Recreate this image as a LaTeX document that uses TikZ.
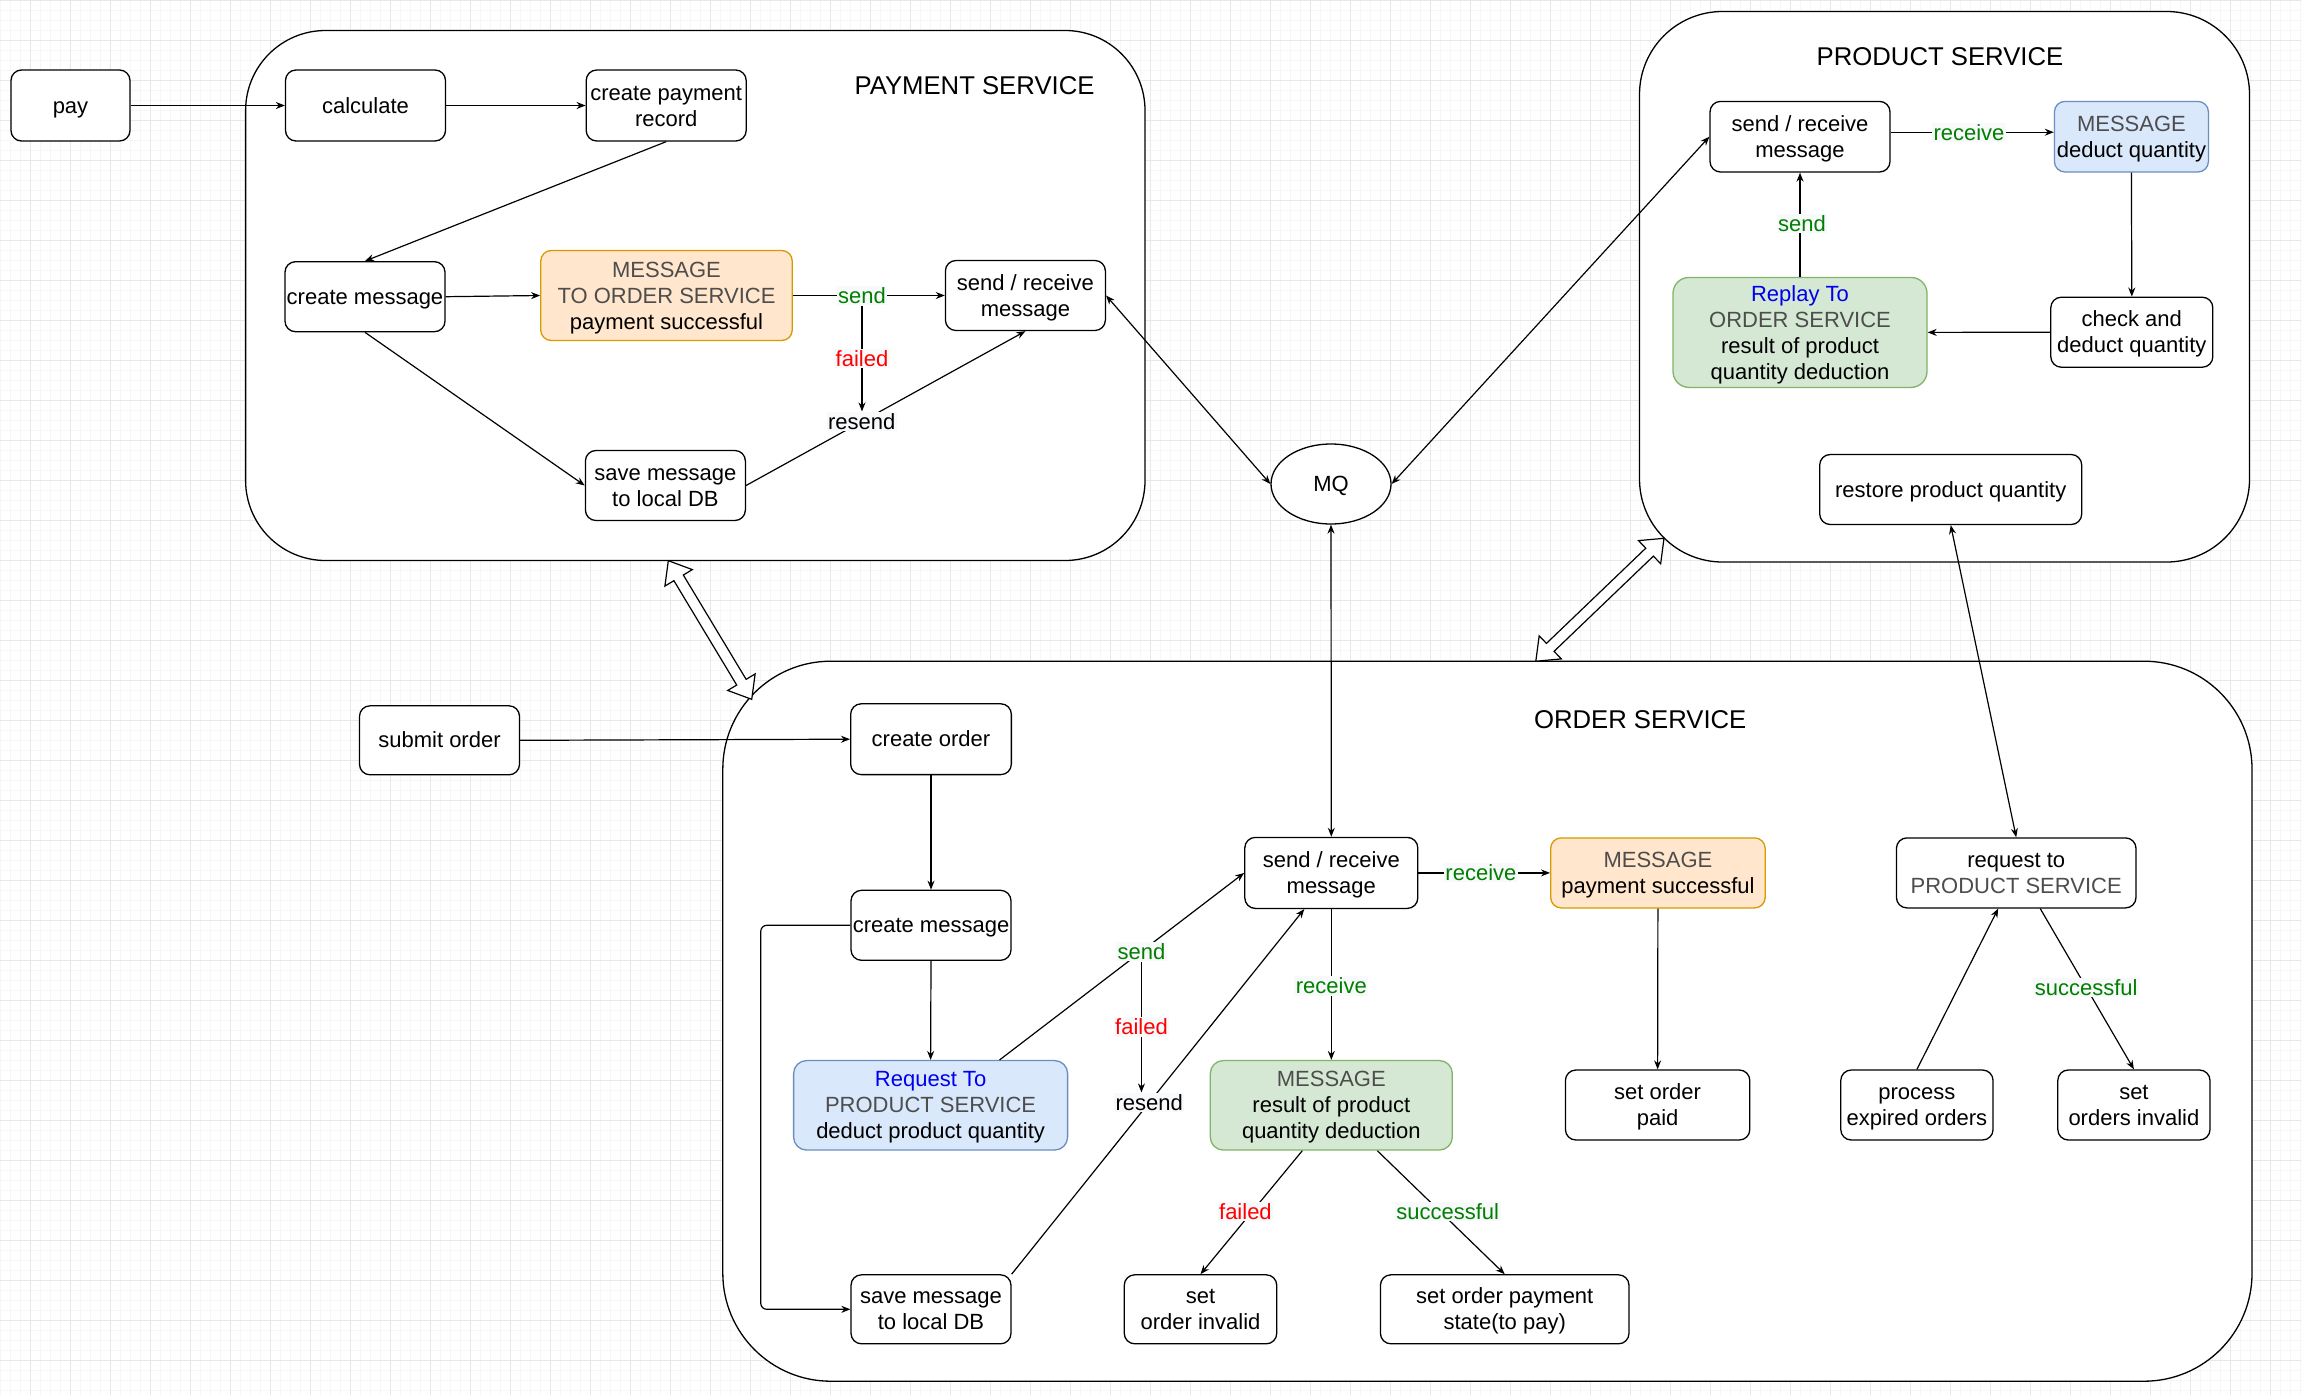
\documentclass[tikz,border=0pt]{standalone}
\usepackage{fontspec}
\setmainfont{Liberation Sans}
\usetikzlibrary{arrows.meta,calc,shapes.geometric}
\definecolor{gridmaj}{HTML}{E8E8E8}
\definecolor{gridmin}{HTML}{F6F6F6}
\definecolor{orfill}{HTML}{FFE6CC}
\definecolor{ordraw}{HTML}{D79B00}
\definecolor{blfill}{HTML}{DAE8FC}
\definecolor{bldraw}{HTML}{6C8EBF}
\definecolor{grfill}{HTML}{D5E8D4}
\definecolor{grdraw}{HTML}{82B366}
\definecolor{txtgray}{HTML}{4D4D4D}
\definecolor{txtblue}{HTML}{0000EE}
\definecolor{lblgreen}{HTML}{007F00}
\definecolor{lblred}{HTML}{FF0000}
\definecolor{lblbg}{HTML}{F8F9FA}
\newcommand\mystrut{\rule[-4.66pt]{0pt}{24.57pt}}
\begin{document}
\begin{tikzpicture}[x=1pt,y=-1pt,
  every node/.style={font=\fontsize{22}{26}\selectfont},
  box/.style={draw, line width=1.3pt, rounded corners=10.5pt, fill=white, align=center, inner sep=0pt, minimum width=160pt, minimum height=70pt},
  orbox/.style={box, fill=orfill, draw=ordraw},
  blbox/.style={box, fill=blfill, draw=bldraw, rounded corners=13pt},
  grbox/.style={box, fill=grfill, draw=grdraw, rounded corners=13pt},
  container/.style={draw, line width=1.3pt, fill=white, inner sep=0pt},
  title/.style={font=\fontsize{25.7}{30}\selectfont, inner sep=0pt},
  conn/.style={draw, line width=1.2pt, -{Stealth[length=9pt,width=7pt]}},
  dconn/.style={draw, line width=1.2pt, {Stealth[length=9pt,width=7pt]}-{Stealth[length=9pt,width=7pt]}},
  lbl/.style={fill=lblbg, inner sep=1.5pt},
  gl/.style={lbl, text=lblgreen},
  rl/.style={lbl, text=lblred},
  blockarrow/.style={draw, line width=1.2pt, fill=white, line join=miter},
  minorgrid/.style={draw=gridmin, line width=0.9pt},
  majorgrid/.style={draw=gridmaj, line width=1pt}
]
\useasboundingbox (0,0) rectangle (2301,1395);
\fill[white] (0,0) rectangle (2301,1395);
% grid
\foreach \x in {0,10,...,2300} \draw[minorgrid] (\x,0) -- (\x,1395);
\foreach \y in {0,10,...,1390} \draw[minorgrid] (0,\y) -- (2301,\y);
\foreach \x in {30,70,...,2290} \draw[majorgrid] (\x,0) -- (\x,1395);
\foreach \y in {0,40,...,1390} \draw[majorgrid] (0,\y) -- (2301,\y);

% containers
\node[container, rounded corners=80pt, minimum width=899.4pt, minimum height=530pt] (paysvc) at (695.3,295.5) {};
\node[container, rounded corners=83pt, minimum width=610pt, minimum height=550.5pt] (prodsvc) at (1944.5,286.75) {};
\node[container, rounded corners=108pt, minimum width=1529.2pt, minimum height=720pt] (ordsvc) at (1487.4,1021.2) {};

\node[title] (tP) at (974.5,86) {PAYMENT SERVICE};
\node[title] (tR) at (1940,57) {PRODUCT SERVICE};
\node[title] (tO) at (1640.2,719.5) {ORDER SERVICE};

% payment service
\node[box, minimum width=119pt, minimum height=71pt] (pay) at (70.5,105.5) {\mystrut pay\mystrut};
\node[box, minimum height=71pt] (calc) at (365.5,105.5) {\mystrut calculate\mystrut};
\node[box, minimum height=71pt] (cpr) at (666.2,105.5) {\mystrut create payment\\record\mystrut};
\node[box] (cmsgP) at (365,296.7) {\mystrut create message\mystrut};
\node[orbox, minimum width=251.5pt, minimum height=90pt] (msgP) at (666.5,295.5) {\mystrut\textcolor{txtgray}{MESSAGE}\\\textcolor{txtgray}{TO ORDER SERVICE}\\payment successful\mystrut};
\node[box] (srP) at (1025.4,295.5) {\mystrut send / receive\\message\mystrut};
\node[box] (saveP) at (665.4,485.5) {\mystrut save message\\to local DB\mystrut};

% MQ
\node[draw, ellipse, line width=1.3pt, fill=white, minimum width=120pt, minimum height=80pt, inner sep=0pt] (mq) at (1331,484) {\mystrut MQ\mystrut};

% product service
\node[box, minimum width=180pt, minimum height=70.6pt] (srR) at (1800,136.7) {\mystrut send / receive\\message\mystrut};
\node[blbox, rounded corners=10.5pt, minimum width=154pt, minimum height=70.6pt] (msgR) at (2131.4,136.7) {\mystrut\textcolor{txtgray}{MESSAGE}\\deduct quantity\mystrut};
\node[box, minimum width=162pt] (checkR) at (2131.8,332.2) {\mystrut check and\\deduct quantity\mystrut};
\node[grbox, rounded corners=16pt, minimum width=254pt, minimum height=110pt] (replayR) at (1800,332.4) {\mystrut\textcolor{txtblue}{Replay To}\\\textcolor{txtgray}{ORDER SERVICE}\\result of product\\quantity deduction\mystrut};
\node[box, minimum width=262pt] (restoreR) at (1950.7,489.5) {\mystrut restore product quantity\mystrut};

% order service
\node[box, minimum height=69pt] (submit) at (439.5,740.3) {\mystrut submit order\mystrut};
\node[box, minimum width=160.7pt, minimum height=70.8pt] (createO) at (931,739.2) {\mystrut create order\mystrut};
\node[box] (cmsgO) at (931,925.3) {\mystrut create message\mystrut};
\node[blbox, minimum width=274pt, minimum height=89.5pt] (requestO) at (930.6,1105.3) {\mystrut\textcolor{txtblue}{Request To}\\\textcolor{txtgray}{PRODUCT SERVICE}\\deduct product quantity\mystrut};
\node[box, minimum height=69pt] (saveO) at (931,1309.3) {\mystrut save message\\to local DB\mystrut};
\node[box, minimum width=173pt, minimum height=71pt] (srO) at (1331.3,872.9) {\mystrut send / receive\\message\mystrut};
\node[orbox, minimum width=214.5pt] (paysucO) at (1657.9,872.9) {\mystrut\textcolor{txtgray}{MESSAGE}\\payment successful\mystrut};
\node[grbox, minimum width=242pt, minimum height=89.5pt] (resultO) at (1331.3,1105.3) {\mystrut\textcolor{txtgray}{MESSAGE}\\result of product\\quantity deduction\mystrut};
\node[box, minimum width=184.4pt] (paidO) at (1657.6,1105) {\mystrut set order\\paid\mystrut};
\node[box, minimum width=152.5pt, minimum height=69pt] (invalidO) at (1200.5,1309.3) {\mystrut set\\order invalid\mystrut};
\node[box, minimum width=248.6pt, minimum height=69pt] (paystateO) at (1504.7,1309.3) {\mystrut set order payment\\state(to pay)\mystrut};
\node[box, minimum width=239.6pt] (requestPS) at (2016.2,872.9) {\mystrut request to\\\textcolor{txtgray}{PRODUCT SERVICE}\mystrut};
\node[box, minimum width=152.3pt] (expiredO) at (1916.9,1105) {\mystrut process\\expired orders\mystrut};
\node[box, minimum width=152.2pt] (ordersinvO) at (2133.9,1105) {\mystrut set\\orders invalid\mystrut};

% block double arrows between services
\coordinate (da1s) at (668.3,560.7);
\coordinate (da1e) at (751.7,699.3);
\coordinate (da2s) at (1535.8,661.2);
\coordinate (da2e) at (1664,538.3);
\begin{scope}[shift={(da1s)}, rotate=-58.96]
\draw[blockarrow] (0pt,0pt) -- (20pt,16pt) -- (20pt,5.5pt) -- (141.8pt,5.5pt) -- (141.8pt,16pt) -- (161.8pt,0pt) -- (141.8pt,-16pt) -- (141.8pt,-5.5pt) -- (20pt,-5.5pt) -- (20pt,-16pt) -- cycle;
\end{scope}
\begin{scope}[shift={(da2s)}, rotate=43.79]
\draw[blockarrow] (0pt,0pt) -- (20pt,16pt) -- (20pt,5.5pt) -- (157.6pt,5.5pt) -- (157.6pt,16pt) -- (177.6pt,0pt) -- (157.6pt,-16pt) -- (157.6pt,-5.5pt) -- (20pt,-5.5pt) -- (20pt,-16pt) -- cycle;
\end{scope}

% payment connectors
\draw[conn] (pay.east) -- (calc.west);
\draw[conn] (calc.east) -- (cpr.west);
\draw[conn] (cpr.south) -- (cmsgP.north);
\draw[conn] (cmsgP.east) -- (msgP.west);
\draw[conn] (msgP.east) -- node[gl, pos=0.455] (sendP) {send} (srP.west);
\draw[conn] (cmsgP.south) -- (saveP.west);
\draw[conn] (saveP.east) -- node[lbl, pos=0.414] (resendP) {resend} (srP.south);
\draw[conn] (sendP.south) -- node[rl] {failed} (sendP.south |- resendP.north);

% MQ connectors
\draw[dconn] (srP.east) -- (mq.west);
\draw[dconn] (mq.east) -- (srR.west);
\draw[dconn] (mq.south) -- (srO.north);

% product connectors
\draw[conn] ($(srR.east)+(0,-4.5)$) -- node[gl, pos=0.48] {receive} ($(msgR.west)+(0,-4.5)$);
\draw[conn] (msgR.south) -- (checkR.north);
\draw[conn] (checkR.west) -- (replayR.east);
\draw[conn] (replayR.north) -- node[gl, pos=0.51, xshift=2pt] {send} (srR.south);
\draw[dconn] (restoreR.south) -- (requestPS.north);

% order connectors
\draw[conn] (submit.east) -- (createO.west);
\draw[conn] (createO.south) -- (cmsgO.north);
\draw[conn] (cmsgO.south) -- (requestO.north);
\draw[conn, rounded corners=6pt] (cmsgO.west) -- ++(-89.6,0) |- (saveO.west);
\draw[conn] ($(requestO.north)+(69,0)$) -- node[gl, pos=0.58] (sendO) {send} (srO.west);
\draw[conn] (saveO.north east) -- node[lbl, pos=0.47] (resendO) {resend} ($(srO.south)+(-27,0)$);
\draw[conn] (sendO.south) -- node[rl] {failed} (sendO.south |- resendO.north);
\draw[conn] (srO.east) -- node[gl, pos=0.475] {receive} (paysucO.west);
\draw[conn] (srO.south) -- node[gl, pos=0.51] {receive} (resultO.north);
\draw[conn] ($(resultO.south)+(-29,0)$) -- node[rl, pos=0.49, xshift=-7pt] {failed} (invalidO.north);
\draw[conn] ($(resultO.south)+(46,0)$) -- node[gl, pos=0.49, xshift=8pt] {successful} (paystateO.north);
\draw[conn] (paysucO.south) -- (paidO.north);
\draw[conn] (expiredO.north) -- ($(requestPS.south)+(-18,0)$);
\draw[conn] ($(requestPS.south)+(24,0)$) -- node[gl, pos=0.49] {successful} (ordersinvO.north);
\end{tikzpicture}
\end{document}
